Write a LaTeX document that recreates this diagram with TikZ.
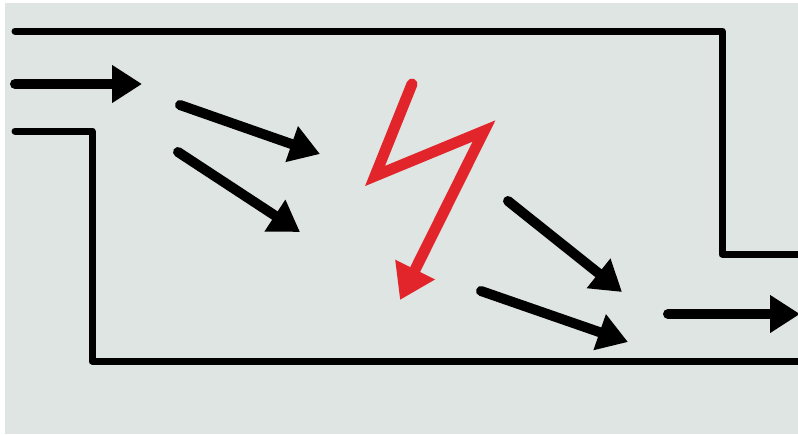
\documentclass[tikz,border=0pt]{standalone}
\usetikzlibrary{arrows.meta}
\definecolor{bgc}{HTML}{DEE5E3}
\definecolor{boltred}{HTML}{E2252B}
\begin{document}
\begin{tikzpicture}[x=1pt,y=-1pt,
  wall/.style={line width=7pt,line join=round,line cap=round,black},
  flow/.style={line width=10pt,line cap=round,black,-{Triangle[length=30pt,width=36pt]}},
  bolt/.style={line width=11pt,line join=miter,line cap=round,boltred,-{Triangle[length=34pt,width=42pt]}}]
\fill[white] (0,0) rectangle (798,434);
\fill[bgc] (5,3) rectangle (798,434);
\useasboundingbox (0,0) rectangle (798,434);
% walls
\coordinate (t0) at (15,31);
\coordinate (t1) at (722,31);
\coordinate (t2) at (722,254);
\coordinate (t3) at (802,254);
\draw[wall] (t0) -- (t1) -- (t2) -- (t3);
\coordinate (b0) at (15,131);
\coordinate (b1) at (92,131);
\coordinate (b2) at (92,361);
\coordinate (b3) at (802,361);
\draw[wall] (b0) -- (b1) -- (b2) -- (b3);
% inlet arrow
\coordinate (i0) at (15,84);
\coordinate (i1) at (142,84);
\draw[flow] (i0) -- (i1);
% left arrows
\coordinate (a0) at (180,105);
\coordinate (a1) at (320,154);
\draw[flow] (a0) -- (a1);
\coordinate (c0) at (178,152);
\coordinate (c1) at (300,232);
\draw[flow] (c0) -- (c1);
% lightning
\coordinate (l0) at (412,84);
\coordinate (l1) at (375,176);
\coordinate (l2) at (484,131);
\coordinate (l3) at (400,300);
\draw[bolt] (l0) -- (l1) -- (l2) -- (l3);
% right arrows
\coordinate (d0) at (508,201);
\coordinate (d1) at (622,292);
\draw[flow] (d0) -- (d1);
\coordinate (e0) at (481,291);
\coordinate (e1) at (628,342);
\draw[flow] (e0) -- (e1);
% outlet
\coordinate (o0) at (668,314);
\coordinate (o1) at (800,314);
\draw[flow] (o0) -- (o1);
\end{tikzpicture}
\end{document}
